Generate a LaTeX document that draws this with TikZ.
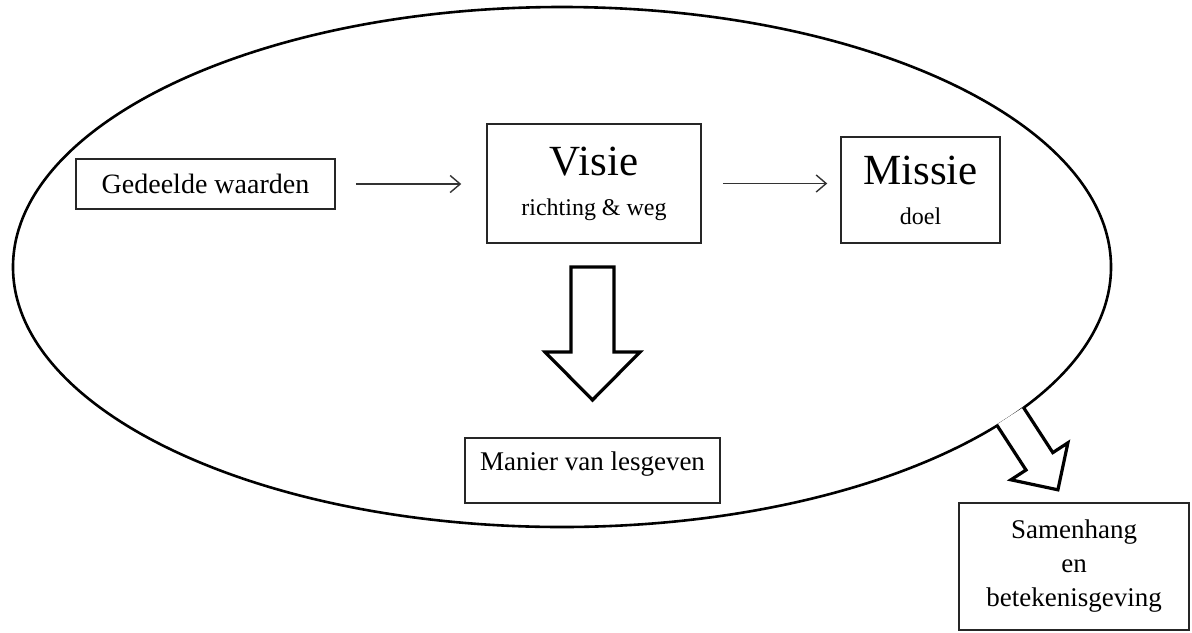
\documentclass[tikz,border=0pt]{standalone}
\usepackage{fontspec}
\setmainfont{Liberation Serif}
\usetikzlibrary{arrows.meta,shapes.geometric}
\begin{document}
\begin{tikzpicture}[x=0.5pt,y=-0.5pt,
  box/.style={draw=black!85, line width=0.75pt, inner sep=0pt, rectangle},
  thinarrow/.style={draw=black!80, line width=0.7pt, -{Straight Barb[length=5pt,width=8.5pt,line width=0.7pt]}},
  blockarrow/.style={draw=black, line width=1.6pt, fill=white, line join=miter},
  oval/.style={draw=black, line width=1.3pt, ellipse, inner sep=0pt, minimum width=549pt, minimum height=260pt}]
\useasboundingbox (0,0) rectangle (1192,632);
\node[oval] (oval) at (562,267) {};
\node[box, minimum width=129.5pt, text height=17pt, text depth=8pt, font=\fontsize{14}{17}\selectfont] (ged) at (205.5,184) {Gedeelde waarden};
\node[box, minimum width=107pt, minimum height=59.5pt, align=center, font=\fontsize{12}{20}\selectfont] (visie) at (594,183.5) {{\fontsize{21.5}{20}\selectfont Visie}\\richting \& weg};
\node[box, minimum width=79.5pt, minimum height=53pt, align=center, font=\fontsize{12}{20}\selectfont] (missie) at (920.5,190) {{\fontsize{21.5}{20}\selectfont Missie}\\doel};
\node[box, minimum width=127.5pt, text height=16pt, text depth=16.5pt, font=\fontsize{13.5}{17}\selectfont] (manier) at (592.5,470.5) {Manier van lesgeven};
\node[box, minimum width=115pt, minimum height=63.5pt, align=center, font=\fontsize{13.5}{17}\selectfont] (sam) at (1074,566.5) {Samenhang\\en\\betekenisgeving};
\draw[thinarrow, shorten <=10pt, shorten >=12.5pt] (ged.east) -- (ged.east -| visie.west);
\draw[thinarrow, shorten <=10.5pt, shorten >=6.5pt] (visie.east) -- (visie.east -| missie.west);
\draw[blockarrow] (571,267) -- (614,267) -- (614,352) -- (640,352) -- (592.5,400) -- (545,352) -- (571,352) -- cycle;
\draw[blockarrow] (996.6,424.7) -- (1026,470) -- (1010.9,479.8) -- (1057.9,489.8) -- (1067.9,442.8) -- (1052.8,452.6) -- (1023.4,407.3);
\end{tikzpicture}
\end{document}
